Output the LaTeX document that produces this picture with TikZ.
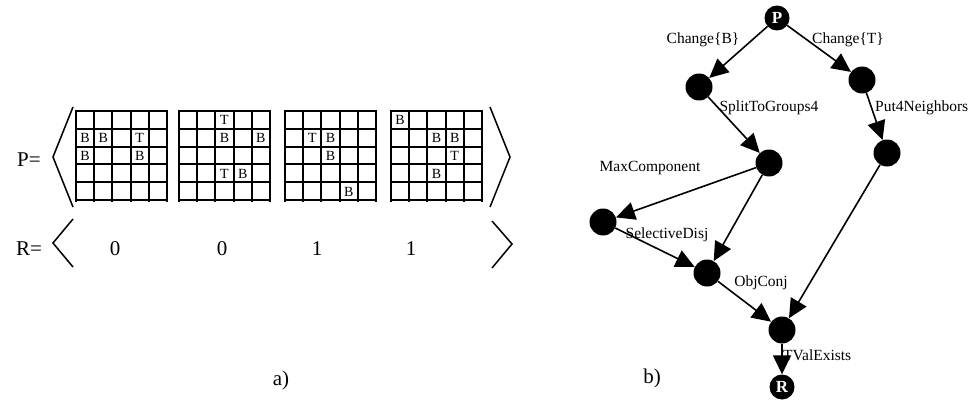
\documentclass[tikz,border=0pt]{standalone}
\usepackage{fontspec}
\setmainfont{Liberation Serif}
\usetikzlibrary{arrows.meta}
\begin{document}
\begin{tikzpicture}[x=1pt,y=-1pt,
  dot/.style={circle,fill=black,minimum size=27pt,inner sep=0pt},
  term/.style={dot,minimum size=25pt,text=white,font=\fontsize{17}{17}\selectfont\bfseries},
  edge/.style={line width=1.6pt,-{Triangle[length=19pt,width=18pt]}},
  lbl/.style={font=\fontsize{15.5}{16}\selectfont,inner sep=0pt},
  big/.style={font=\fontsize{21}{22}\selectfont,inner sep=0pt},
  cell/.style={font=\fontsize{14}{14}\selectfont,inner sep=0pt},
  gridline/.style={line width=2pt},
  brk/.style={line width=1.5pt}]
\useasboundingbox (0,0) rectangle (971,401);
% ---------- part a) ----------
\foreach \gx in {76,179,285,391}{
  \foreach \i in {0,...,5}{
    \draw[gridline] ({\gx+18.2*\i},110) -- ({\gx+18.2*\i},201.5);
    \draw[gridline] ({\gx-1},{111+17.8*\i}) -- ({\gx+92},{111+17.8*\i});
  }
}
% letters: grid x, col, row, letter
\foreach \gx/\c/\r/\t [count=\k] in {
  76/0/1/B, 76/1/1/B, 76/3/1/T, 76/0/2/B, 76/3/2/B,
  179/2/0/T, 179/2/1/B, 179/4/1/B, 179/2/3/T, 179/3/3/B,
  285/1/1/T, 285/2/1/B, 285/2/2/B, 285/3/4/B,
  391/0/0/B, 391/2/1/B, 391/3/1/B, 391/3/2/T, 391/2/3/B}{
  \node[cell] (L\k) at ({\gx+18.2*(\c+0.5)},{111+17.8*(\r+0.5)+0.5}) {\t};
}
\draw[brk] (73,107) -- (53,157) -- (73,207);
\draw[brk] (490,107) -- (510,157) -- (490,207);
\draw[brk] (73,219) -- (53,243) -- (73,267);
\draw[brk] (492,221) -- (512,244) -- (492,268);
\node[big] (Peq) at (29,160) {P=};
\node[big] (Req) at (29,249) {R=};
\node[big] (r1) at (115,249) {0};
\node[big] (r2) at (222,249) {0};
\node[big] (r3) at (317,249) {1};
\node[big] (r4) at (411,249) {1};
\node[big] (capa) at (281,380) {a)};
% ---------- part b) ----------
\node[term] (P) at (777,18) {P};
\node[dot] (A) at (699,87) {};
\node[dot] (B) at (862,80) {};
\node[dot] (C) at (769,163) {};
\node[dot] (D) at (887,153) {};
\node[dot] (E) at (603,222) {};
\node[dot] (F) at (707,273) {};
\node[dot] (G) at (782,330) {};
\node[term] (R) at (782,387) {R};
\draw[edge] (P) -- (A);
\draw[edge] (P) -- (B);
\draw[edge] (A) -- (C);
\draw[edge] (B) -- (D);
\draw[edge] (C) -- (E);
\draw[edge] (C) -- (F);
\draw[edge] (E) -- (F);
\draw[edge] (F) -- (G);
\draw[edge] (D) -- (G);
\draw[edge] (G) -- (R);
\node[lbl] (l1) at (703,40) {Change\{B\}};
\node[lbl] (l2) at (848,40) {Change\{T\}};
\node[lbl] (l3) at (769,108) {SplitToGroups4};
\node[lbl,anchor=west] (l4) at (875,108) {Put4Neighbors};
\node[lbl] (l5) at (650,168) {MaxComponent};
\node[lbl] (l6) at (667,235) {SelectiveDisj};
\node[lbl] (l7) at (761,283) {ObjConj};
\node[lbl,anchor=west] (l8) at (783,355) {TValExists};
\node[big] (capb) at (652,378) {b)};
\end{tikzpicture}
\end{document}
